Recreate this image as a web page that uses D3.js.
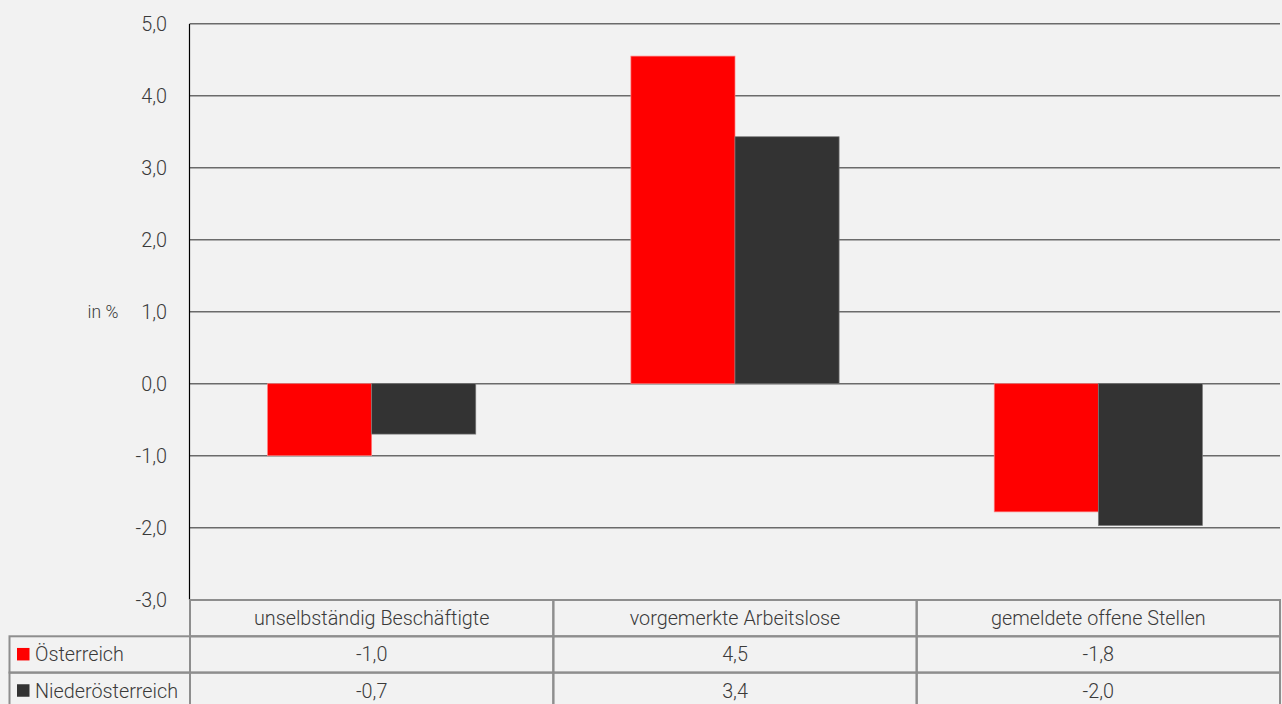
<!DOCTYPE html>
<html lang="de">
<head>
<meta charset="UTF-8">
<title>Veränderung in %</title>
<script src="https://cdn.jsdelivr.net/npm/d3@7"></script>
<style>
  html, body { margin: 0; padding: 0; background: #f2f2f2; }
  svg { display: block; font-family: Roboto, "Open Sans", sans-serif; font-weight: 300; }
</style>
</head>
<body>
<div id="chart"></div>
<script>
    var categories = ['unselbständig Beschäftigte', 'vorgemerkte Arbeitslose', 'gemeldete offene Stellen'];
    var seriesNames = ['Österreich', 'Niederösterreich'];
    var oesterreich = [-1.0, 4.55, -1.78];
    var niederoesterreich = [-0.7, 3.43, -1.97];
    var tableOe = ['-1,0', '4,5', '-1,8'];
    var tableNoe = ['-0,7', '3,4', '-2,0'];
    var yTicks = [-3, -2, -1, 0, 1, 2, 3, 4, 5];
    var colors = ['#ff0000', '#333333'];

    var W = 1282, H = 704;
    var plotLeft = 190, plotRight = 1280, plotTop = 23.7, plotBottom = 599.7;
    var textColor = '#3a3a3a';
    var fontSize = '19.8px';

    var svg = d3.select('#chart').append('svg')
            .attr('width', W)
            .attr('height', H);

    svg.append('rect').attr('width', W).attr('height', H).attr('fill', '#f2f2f2');

    var y = d3.scaleLinear().domain([-3, 5]).range([plotBottom, plotTop]);
    var x0 = d3.scaleBand().domain(categories).range([plotLeft, plotRight]);
    var x1 = d3.scaleBand().domain(seriesNames)
            .range([0, x0.bandwidth()])
            .paddingOuter(0.745);

    // gridlines
    svg.append('g').selectAll('line')
            .data(yTicks.filter(function(d){ return d > -3; }))
            .enter().append('line')
            .attr('x1', plotLeft).attr('x2', plotRight)
            .attr('y1', function(d){ return y(d); })
            .attr('y2', function(d){ return y(d); })
            .attr('stroke', '#6b6b6b')
            .attr('stroke-width', 1.4);

    // y tick labels
    svg.append('g').selectAll('text')
            .data(yTicks)
            .enter().append('text')
            .attr('x', 167)
            .attr('y', function(d){ return y(d); })
            .attr('dy', '0.35em')
            .attr('text-anchor', 'end')
            .attr('fill', textColor)
            .style('font-size', fontSize)
            .text(function(d){ return d3.format('.1f')(d).replace('.', ',').replace('−', '-'); });

    svg.append('text')
            .attr('x', 103).attr('y', y(1))
            .attr('dy', '0.35em')
            .attr('text-anchor', 'middle')
            .attr('fill', textColor)
            .style('font-size', '17.5px')
            .text('in %');

    // bars
    var rows = [oesterreich, niederoesterreich];
    var groups = svg.append('g').selectAll('g')
            .data(categories)
            .enter().append('g')
            .attr('transform', function(d){ return 'translate(' + x0(d) + ',0)'; });

    groups.selectAll('rect')
            .data(function(d, i){
                return seriesNames.map(function(s, j){ return {s: s, v: rows[j][i], c: colors[j], j: j}; });
            })
            .enter().append('rect')
            .attr('x', function(d){ return x1(d.s); })
            .attr('width', x1.bandwidth())
            .attr('y', function(d){ return y(Math.max(0, d.v)); })
            .attr('height', function(d){ return Math.abs(y(d.v) - y(0)); })
            .attr('fill', function(d){ return d.c; })
            .attr('stroke', function(d){ return d.j === 0 ? '#ff8080' : '#7a7a7a'; })
            .attr('stroke-width', 0.7);

    // y axis line
    svg.append('line')
            .attr('x1', plotLeft - 0.5).attr('x2', plotLeft - 0.5)
            .attr('y1', plotTop).attr('y2', plotBottom)
            .attr('stroke', '#000').attr('stroke-width', 1.2);

    // data table
    var rowTop = 600, rowH = 36.3, tableLeft = 9.5;
    var border = '#8e8e8e';
    var table = svg.append('g');

    // header row
    table.selectAll('.hdr')
            .data(categories)
            .enter().append('rect')
            .attr('class', 'hdr')
            .attr('x', function(d){ return x0(d); })
            .attr('y', rowTop)
            .attr('width', x0.bandwidth())
            .attr('height', rowH)
            .attr('fill', 'none')
            .attr('stroke', border).attr('stroke-width', 2);

    table.selectAll('.hdrtxt')
            .data(categories)
            .enter().append('text')
            .attr('x', function(d){ return x0(d) + x0.bandwidth() / 2; })
            .attr('y', rowTop + rowH / 2)
            .attr('dy', '0.35em')
            .attr('text-anchor', 'middle')
            .attr('fill', textColor)
            .style('font-size', fontSize)
            .text(function(d){ return d; });

    var tableRows = [tableOe, tableNoe];
    tableRows.forEach(function(vals, j){
        var ry = rowTop + rowH * (j + 1);
        table.append('rect')
                .attr('x', tableLeft).attr('y', ry)
                .attr('width', plotLeft - tableLeft).attr('height', rowH)
                .attr('fill', 'none')
                .attr('stroke', border).attr('stroke-width', 2);
        table.append('rect')
                .attr('x', 17).attr('y', ry + rowH / 2 - 6.5)
                .attr('width', 12.5).attr('height', 12.5)
                .attr('fill', colors[j]);
        table.append('text')
                .attr('x', 35).attr('y', ry + rowH / 2)
                .attr('dy', '0.35em')
                .attr('fill', textColor)
                .style('font-size', fontSize)
                .text(seriesNames[j]);

        table.selectAll('.c' + j)
                .data(categories)
                .enter().append('rect')
                .attr('x', function(d){ return x0(d); })
                .attr('y', ry)
                .attr('width', x0.bandwidth())
                .attr('height', rowH)
                .attr('fill', 'none')
                .attr('stroke', border).attr('stroke-width', 2);

        table.selectAll('.t' + j)
                .data(categories)
                .enter().append('text')
                .attr('x', function(d){ return x0(d) + x0.bandwidth() / 2; })
                .attr('y', ry + rowH / 2)
                .attr('dy', '0.35em')
                .attr('text-anchor', 'middle')
                .attr('fill', textColor)
                .style('font-size', fontSize)
                .text(function(d, i){ return vals[i]; });
    });
</script>
</body>
</html>
